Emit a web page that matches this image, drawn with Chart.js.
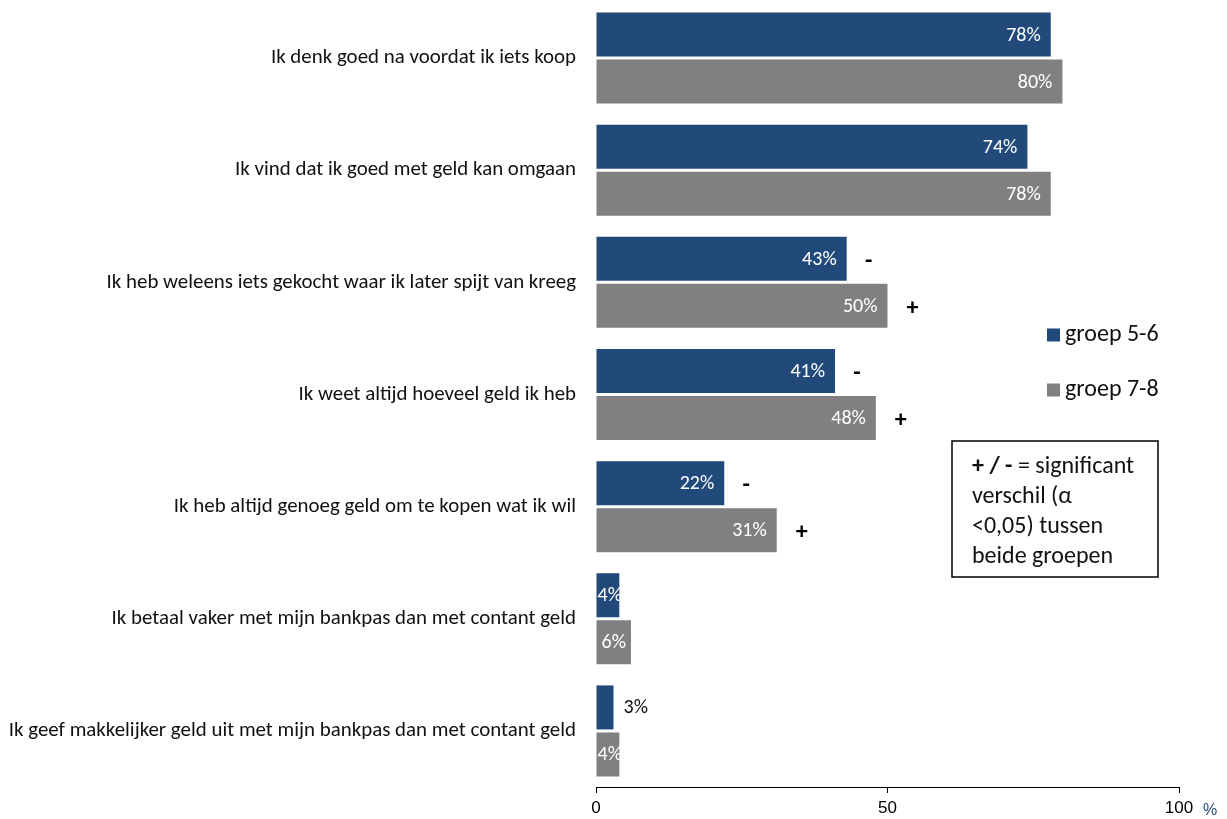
<!DOCTYPE html>
<html>
<head>
<meta charset="utf-8">
<script src="https://cdn.jsdelivr.net/npm/chart.js@4.4.0/dist/chart.umd.min.js"></script>
<style>
html,body{margin:0;padding:0;background:#fff;}
#wrap{width:1227px;height:819px;position:relative;}
</style>
</head>
<body>
<div id="wrap"><canvas id="c" width="1227" height="819"></canvas></div>
<script>
const categories = [
  "Ik denk goed na voordat ik iets koop",
  "Ik vind dat ik goed met geld kan omgaan",
  "Ik heb weleens iets gekocht waar ik later spijt van kreeg",
  "Ik weet altijd hoeveel geld ik heb",
  "Ik heb altijd genoeg geld om te kopen wat ik wil",
  "Ik betaal vaker met mijn bankpas dan met contant geld",
  "Ik geef makkelijker geld uit met mijn bankpas dan met contant geld"
];
const groep56 = [78, 74, 43, 41, 22, 4, 3];
const groep78 = [80, 78, 50, 48, 31, 6, 4];
const sig56 = ["", "", "-", "-", "-", "", ""];
const sig78 = ["", "", "+", "+", "+", "", ""];
const xTicks = [0, 50, 100];
const seriesNames = ["groep 5-6", "groep 7-8"];
const noteLines = ["= significant", "verschil (\u03b1", "<0,05) tussen", "beide groepen"];

const BLUE = "#214A7B";
const GRAY = "#808080";
const LBL_FONT = "Carlito, Calibri, Lato, 'Open Sans', sans-serif";

const overlay = {
  id: "overlay",
  afterDatasetsDraw(chart) {
    const ctx = chart.ctx;
    const sigs = [sig56, sig78];
    ctx.save();
    chart.data.datasets.forEach((ds, di) => {
      const meta = chart.getDatasetMeta(di);
      meta.data.forEach((bar, i) => {
        const v = ds.data[i];
        const txt = v + "%";
        ctx.font = "20px " + LBL_FONT;
        const tw = ctx.measureText(txt).width;
        const start = bar.base, end = bar.x;
        const w = end - start;
        ctx.textBaseline = "middle";
        if (w >= tw - 2) {
          ctx.fillStyle = "#ffffff";
          ctx.textAlign = "right";
          const right = Math.max(end - 10, Math.min(end - 4, start + tw + 5), start + tw + 1);
          ctx.fillText(txt, right, bar.y + 1);
        } else {
          ctx.fillStyle = "#111";
          ctx.textAlign = "left";
          ctx.fillText(txt, end + 10, bar.y + 1);
        }
        const s = sigs[di][i];
        if (s) {
          ctx.font = "bold 24px " + LBL_FONT;
          ctx.fillStyle = "#000";
          ctx.textAlign = "center";
          ctx.fillText(s, end + (s === "+" ? 25 : 22), bar.y + 3);
        }
      });
    });
    // legend
    const colors = [BLUE, GRAY];
    const ly = [335, 390];
    ctx.font = "24px " + LBL_FONT;
    ctx.textAlign = "left";
    ctx.textBaseline = "middle";
    seriesNames.forEach((n, k) => {
      ctx.fillStyle = colors[k];
      ctx.fillRect(1047, ly[k] - 6.5, 13, 13);
      ctx.fillStyle = "#111";
      ctx.fillText(n, 1065, ly[k]);
    });
    // note box
    ctx.strokeStyle = "#000";
    ctx.lineWidth = 1.5;
    ctx.strokeRect(952, 441, 206, 136);
    ctx.fillStyle = "#111";
    ctx.font = "bold 24px " + LBL_FONT;
    const pre = "+ / - ";
    ctx.fillText(pre, 972, 467);
    const pw = ctx.measureText(pre).width;
    ctx.font = "24px " + LBL_FONT;
    ctx.fillText(noteLines[0], 972 + pw, 467);
    for (let k = 1; k < noteLines.length; k++) {
      ctx.fillText(noteLines[k], 972, 467 + 30 * k);
    }
    // axis unit
    ctx.font = "16px 'Liberation Sans', Arial, sans-serif";
    ctx.fillStyle = "#1F497D";
    ctx.textAlign = "left";
    ctx.fillText("%", 1203, 811);
    ctx.restore();
  }
};

new Chart(document.getElementById("c"), {
  type: "bar",
  data: {
    labels: categories,
    datasets: [
      { label: seriesNames[0], data: groep56, backgroundColor: BLUE, categoryPercentage: 0.8385, barPercentage: 0.936 },
      { label: seriesNames[1], data: groep78, backgroundColor: GRAY, categoryPercentage: 0.8385, barPercentage: 0.936 }
    ]
  },
  options: {
    indexAxis: "y",
    responsive: false,
    animation: false,
    layout: { padding: { top: 2, right: 48, left: 0, bottom: 0 } },
    plugins: { legend: { display: false }, tooltip: { enabled: false } },
    scales: {
      x: {
        min: 0, max: 100,
        afterBuildTicks(scale) { scale.ticks = xTicks.map(v => ({ value: v })); },
        afterFit(scale) { scale.height = 32; scale.paddingLeft = 0; scale.paddingRight = 0; },
        grid: { display: true, drawOnChartArea: false, drawTicks: true, tickLength: 6, color: "#000", lineWidth: 1 },
        border: { display: true, color: "#000", width: 1 },
        ticks: { padding: 5, color: "#000", maxRotation: 0, font: { family: "'Liberation Sans', Arial, sans-serif", size: 17 } }
      },
      y: {
        afterFit(scale) { scale.width = 596; scale.paddingTop = 0; scale.paddingBottom = 0; },
        grid: { display: false },
        border: { display: false },
        ticks: { padding: 12, color: "#111", autoSkip: false, font: { family: LBL_FONT, size: 20.9 } }
      }
    }
  },
  plugins: [overlay]
});
</script>
</body>
</html>
